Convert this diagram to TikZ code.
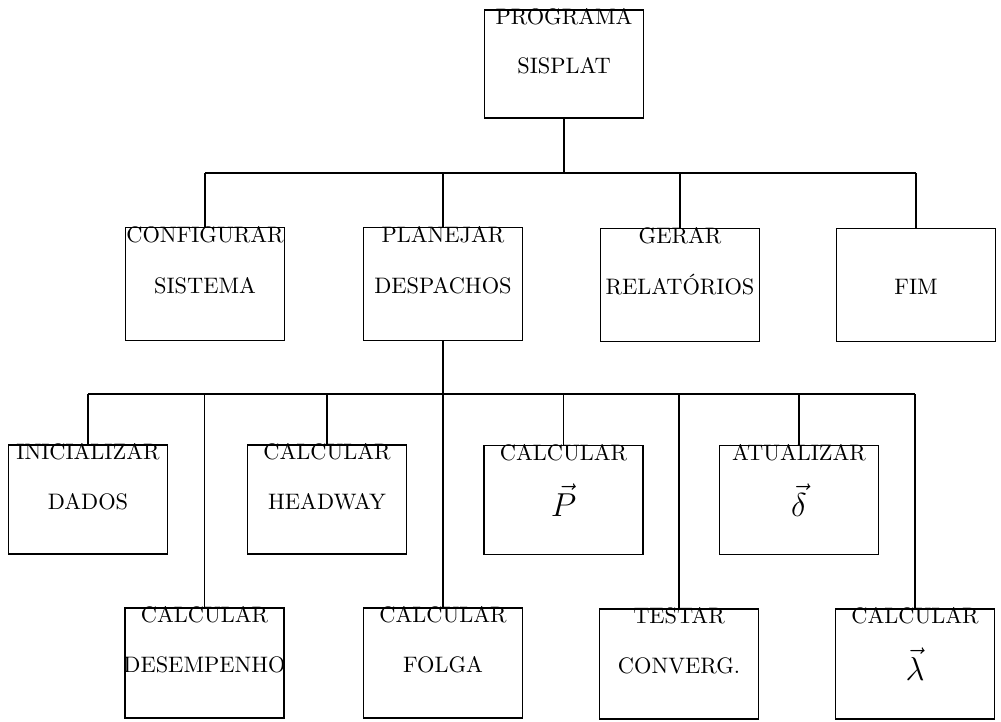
\documentclass[tikz,border=0pt]{standalone}
\usepackage{fontspec}
\setmainfont{lmroman10-regular.otf}
\begin{document}
\begin{tikzpicture}[x=0.75pt,y=-0.75pt,
  box/.style={draw, line width=1.1pt, minimum width=119pt, inner sep=0pt},
  top/.style={box, minimum height=81pt},
  mid/.style={box, minimum height=85pt},
  upper/.style={box, minimum height=82pt},
  lower/.style={box, minimum height=82.5pt},
  headtxt/.style={anchor=north, inner sep=0pt, text height=11.4pt, text depth=0pt,
    font=\fontsize{16.8}{20}\selectfont},
  bodytxt/.style={inner sep=0pt, text height=11.4pt, text depth=0pt,
    font=\fontsize{16.8}{20}\selectfont},
  vectxt/.style={inner sep=0pt, font=\fontsize{24}{28}\selectfont},
  link/.style={line width=1.1pt}]
\useasboundingbox (0,0) rectangle (1001,722);

% main program
\node[top] (prog) at (564,64) {};
\node[headtxt] (progA) at (prog.north) {PROGRAMA};
\node[bodytxt] (progB) at ([yshift=-1.5pt]prog.center) {SISPLAT};

% second level
\node[mid] (conf) at (205,284) {};
\node[headtxt] (confA) at (conf.north) {CONFIGURAR};
\node[bodytxt] (confB) at ([yshift=-1.5pt]conf.center) {SISTEMA};

\node[mid] (plan) at (443,284) {};
\node[headtxt] (planA) at (plan.north) {PLANEJAR};
\node[bodytxt] (planB) at ([yshift=-1.5pt]plan.center) {DESPACHOS};

\node[mid] (gerar) at (680,285) {};
\node[headtxt] (gerarA) at (gerar.north) {GERAR};
\node[bodytxt] (gerarB) at ([yshift=-1.5pt]gerar.center) {RELATÓRIOS};

\node[mid] (fim) at (916,285) {};
\node[bodytxt] (fimB) at ([yshift=-1.5pt]fim.center) {FIM};

% third level, upper row
\node[upper] (inic) at (88,499.5) {};
\node[headtxt] (inicA) at (inic.north) {INICIALIZAR};
\node[bodytxt] (inicB) at ([yshift=-1.5pt]inic.center) {DADOS};

\node[upper] (head) at (327,499.5) {};
\node[headtxt] (headA) at (head.north) {CALCULAR};
\node[bodytxt] (headB) at ([yshift=-1.5pt]head.center) {HEADWAY};

\node[upper] (calcP) at (563.5,500) {};
\node[headtxt] (calcPA) at (calcP.north) {CALCULAR};
\node[vectxt] (calcPB) at (calcP.center) {$\vec{P}$};

\node[upper] (delta) at (799,500) {};
\node[headtxt] (deltaA) at (delta.north) {ATUALIZAR};
\node[vectxt] (deltaB) at (delta.center) {$\vec{\delta}$};

% third level, lower row
\node[lower] (desemp) at (204.5,663) {};
\node[headtxt] (desempA) at (desemp.north) {CALCULAR};
\node[bodytxt] (desempB) at ([yshift=-1.5pt]desemp.center) {DESEMPENHO};

\node[lower] (folga) at (443,663) {};
\node[headtxt] (folgaA) at (folga.north) {CALCULAR};
\node[bodytxt] (folgaB) at ([yshift=-1.5pt]folga.center) {FOLGA};

\node[lower] (conv) at (679,664) {};
\node[headtxt] (convA) at (conv.north) {TESTAR};
\node[bodytxt] (convB) at ([yshift=-1.5pt]conv.center) {CONVERG.};

\node[lower] (lamb) at (915,664) {};
\node[headtxt] (lambA) at (lamb.north) {CALCULAR};
\node[vectxt] (lambB) at (lamb.center) {$\vec{\lambda}$};

% connectors: first bus
\coordinate (bus1) at (564,173);
\draw[link] (prog.south) -- (bus1);
\draw[link] (conf.north |- bus1) -- (fim.north |- bus1);
\foreach \n in {conf,plan,gerar,fim}
  \draw[link] (\n.north) -- (\n.north |- bus1);

% connectors: second bus
\coordinate (bus2) at (443,394);
\draw[link] (plan.south) -- (folga.north);
\draw[link] (inic.north |- bus2) -- (lamb.north |- bus2);
\foreach \n in {inic,desemp,head,calcP,conv,delta,lamb}
  \draw[link] (\n.north) -- (\n.north |- bus2);
\end{tikzpicture}
\end{document}
